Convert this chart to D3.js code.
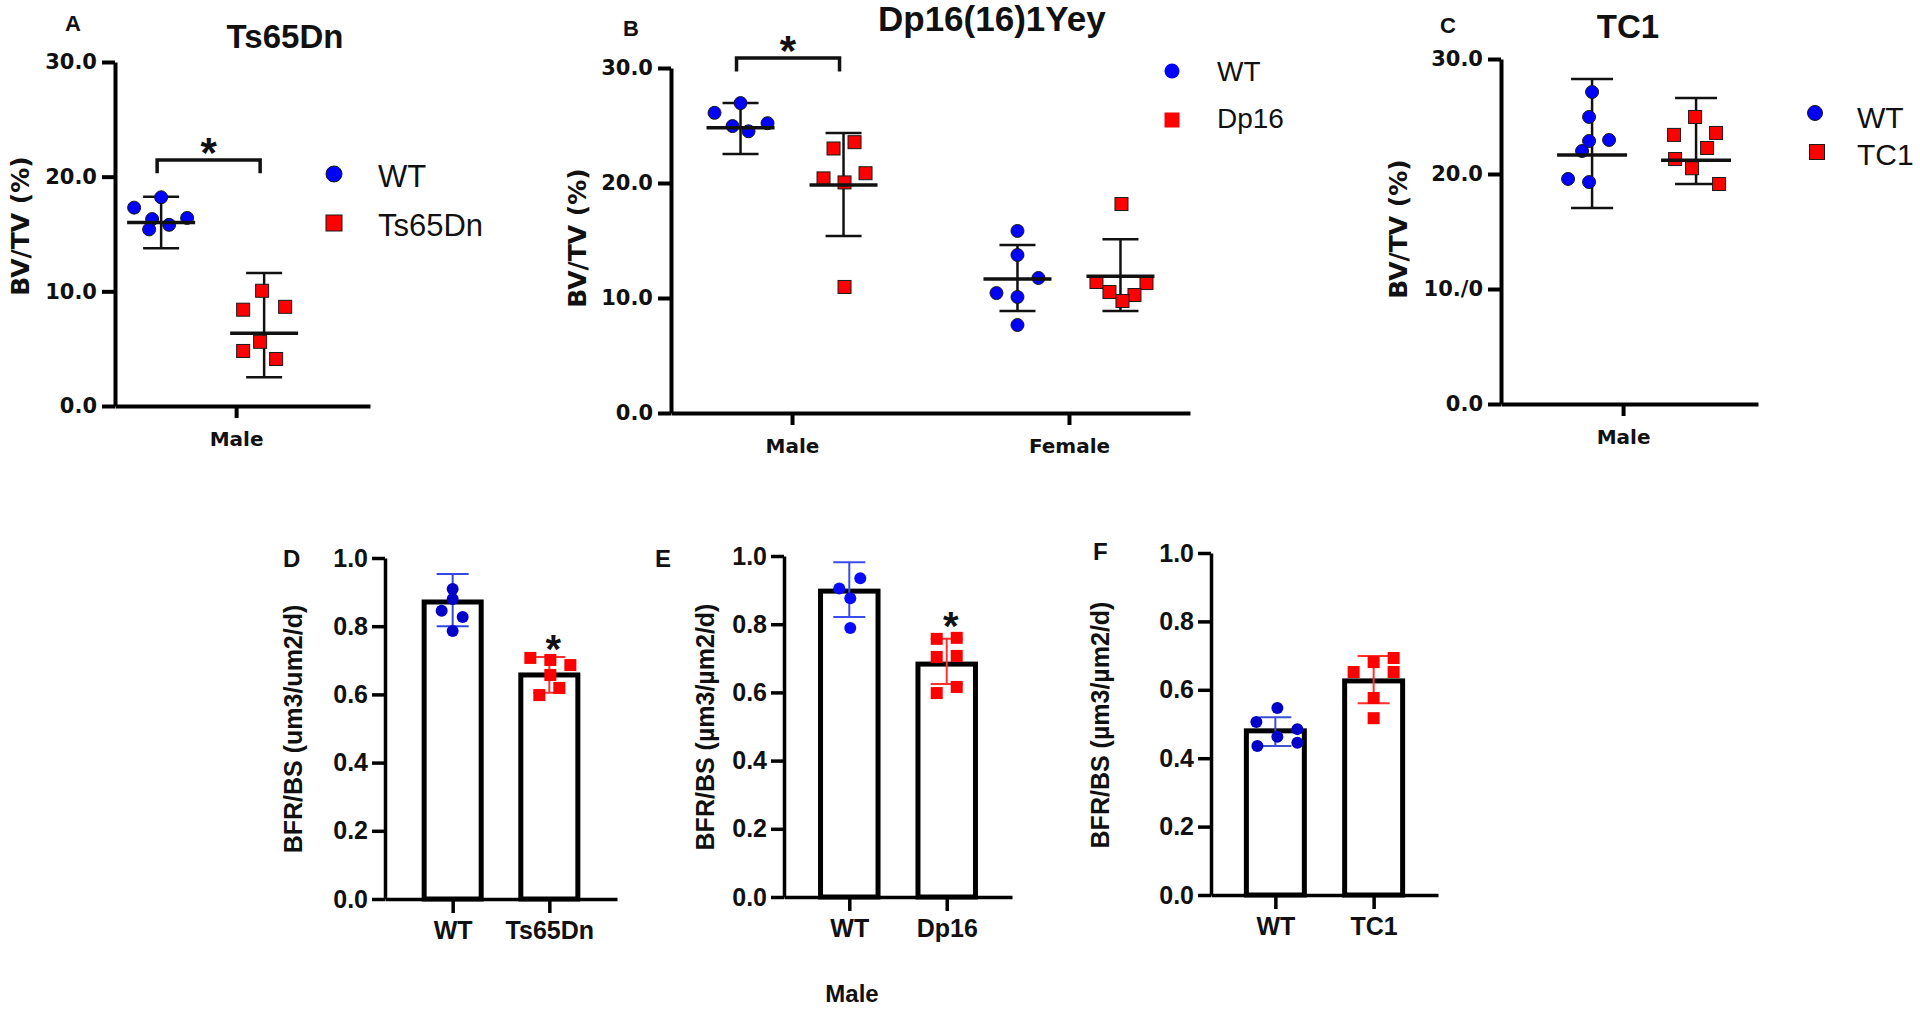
<!DOCTYPE html>
<html>
<head>
<meta charset="utf-8">
<script src="https://cdn.jsdelivr.net/npm/d3@7"></script>
<style>
  html, body { margin: 0; padding: 0; background: #fff; }
  svg { display: block; }
</style>
</head>
<body>
<svg id="fig" width="1920" height="1009"></svg>
<script>
// ---------- top row: BV/TV (%) ----------
const bvTicks = [0, 10, 20, 30];
const bvLabels = ["0.0", "10.0", "20.0", "30.0"];
const bvLabelsC = ["0.0", "10./0", "20.0", "30.0"];   // typo kept from the original

// A  Ts65Dn
const aCats = ["Male"];
const aGeno = ["WT", "Ts65Dn"];
const aWT = [17.3, 18.2, 16.3, 15.4, 15.8, 16.4];
const aWTJit = [-27, 0, -9, -12, 8, 26];
const aTs = [10.05, 8.4, 8.65, 5.6, 4.8, 4.1];
const aTsJit = [-2, -21, 21, -4, -21, 12];
const aMean = [16.0, 6.35];
const aLo = [13.75, 2.5];
const aHi = [18.25, 11.6];

// B  Dp16(16)1Yey
const bCats = ["Male", "Female"];
const bGeno = ["WT", "Dp16"];
const bWTMale = [26.1, 26.95, 24.95, 24.5, 25.2];
const bWTMaleJit = [-26, 0, -8, 8, 27];
const bDpMale = [23.0, 23.55, 20.4, 20.85, 20.05, 10.96];
const bDpMaleJit = [-10, 11, -20, 22, 1, 1];
const bWTFemale = [15.83, 13.74, 11.74, 10.43, 10.09, 7.65];
const bWTFemaleJit = [0, 0, 21, -21, 0, 0];
const bDpFemale = [18.17, 11.39, 11.3, 10.52, 10.26, 9.74];
const bDpFemaleJit = [1, -24, 26, -11, 14, 2];
// order: WT male, Dp16 male, WT female, Dp16 female
const bMean = [24.8, 19.83, 11.65, 11.9];
const bLo = [22.52, 15.39, 8.87, 8.87];
const bHi = [26.96, 24.35, 14.6, 15.1];

// C  TC1
const cCats = ["Male"];
const cGeno = ["WT", "TC1"];
const cWT = [27.13, 24.96, 22.87, 22.96, 22.0, 19.57, 19.3];
const cWTJit = [0, -3, -3, 17, -10, -24, -3];
const cTC = [24.96, 23.4, 23.57, 22.26, 21.3, 20.5, 19.13];
const cTCJit = [-1, -22, 20, 11, -21, -4, 23];
const cMean = [21.65, 21.2];
const cLo = [17.04, 19.13];
const cHi = [28.26, 26.6];

// ---------- bottom row: BFR/BS ----------
const bfrTicks = [0, 0.2, 0.4, 0.6, 0.8, 1.0];
const bfrLabels = ["0.0", "0.2", "0.4", "0.6", "0.8", "1.0"];

// D  Ts65Dn
const dGeno = ["WT", "Ts65Dn"];
const dWT = [0.909, 0.880, 0.845, 0.827, 0.786];
const dWTJit = [0, 0, -11, 10, 0];
const dTs = [0.707, 0.701, 0.686, 0.657, 0.619, 0.598];
const dTsJit = [-19, 1, 21, 1, 10, -10];
const dMean = [0.871, 0.657];
const dLo = [0.80, 0.605];
const dHi = [0.953, 0.710];

// E  Dp16
const eGeno = ["WT", "Dp16"];
const eWT = [0.935, 0.905, 0.876, 0.789];
const eWTJit = [11, -10, 1, 1];
const eDp = [0.757, 0.760, 0.704, 0.707, 0.598, 0.616];
const eDpJit = [-10, 10, -10, 10, -10, 10];
const eMean = [0.897, 0.683];
const eLo = [0.821, 0.625];
const eHi = [0.982, 0.757];

// F  TC1
const fGeno = ["WT", "TC1"];
const fWT = [0.547, 0.506, 0.485, 0.463, 0.436, 0.445];
const fWTJit = [2, -19, 22, 2, -18, 22];
const fTC = [0.652, 0.681, 0.693, 0.652, 0.576, 0.517];
const fTCJit = [-20, 0, 20, 20, 0, 0];
const fMean = [0.48, 0.626];
const fLo = [0.436, 0.561];
const fHi = [0.52, 0.699];

const BLUE = "#0000ff", RED = "#ff0000";
const BOLD = "'Liberation Sans', Arial, sans-serif";
const WIDE = "'DejaVu Sans', sans-serif";

const svg = d3.select("#fig");

function addText(x, y, str, opt) {
    const t = svg.append("text")
        .attr("x", x).attr("y", y)
        .attr("font-family", opt.family || BOLD)
        .attr("font-size", opt.size)
        .attr("font-weight", opt.weight || "bold")
        .attr("text-anchor", opt.anchor || "start")
        .attr("fill", "#111")
        .text(str);
    return t;
}

function yLabel(x, y, str, family, size) {
    svg.append("text")
        .attr("transform", "translate(" + x + "," + y + ") rotate(-90)")
        .attr("text-anchor", "middle")
        .attr("dominant-baseline", "central")
        .attr("font-family", family)
        .attr("font-size", size)
        .attr("font-weight", "bold")
        .attr("fill", "#111")
        .text(str);
}

function marker(g, shape, cx, cy, size, fill, stroke) {
    if (shape === "circle") {
        g.append("circle").attr("cx", cx).attr("cy", cy).attr("r", size / 2)
            .attr("fill", fill).attr("stroke", stroke || "none").attr("stroke-width", 1);
    } else {
        g.append("rect").attr("x", cx - size / 2).attr("y", cy - size / 2)
            .attr("width", size).attr("height", size)
            .attr("fill", fill).attr("stroke", stroke || "none").attr("stroke-width", 1);
    }
}

// asterisk glyph sits high in the em box, shift baseline so its centre lands on cy
function star(x, cy, size) {
    addText(x, cy + size * 0.57, "*", { size: size, anchor: "middle" });
}

// dot plot with mean +/- SD (top row)
function scatterPanel(p) {
    const y = d3.scaleLinear().domain([0, 30]).range([p.yBase, p.yTop]);
    const x = d3.scalePoint().domain(p.cats).range([p.x0, p.x1])
        .padding(p.padding).align(p.align);
    const g = svg.append("g");

    const ya = g.append("g").attr("transform", "translate(" + p.x0 + ",0)")
        .call(d3.axisLeft(y).tickValues(bvTicks)
            .tickFormat((d, i) => p.labels[i])
            .tickSize(13).tickSizeOuter(0).tickPadding(5));
    ya.attr("stroke-width", 4).attr("font-family", WIDE)
        .attr("font-size", 21).attr("font-weight", "bold");

    const xa = g.append("g").attr("transform", "translate(0," + p.yBase + ")")
        .call(d3.axisBottom(x).tickSize(12).tickSizeOuter(0).tickPadding(14));
    xa.attr("stroke-width", 4).attr("font-family", WIDE)
        .attr("font-size", 20).attr("font-weight", "bold");
    g.selectAll(".tick text").attr("fill", "#111");

    p.groups.forEach(d => {
        const cx = x(d.cat) + p.offsets[d.geno];
        const half = p.capW / 2, mh = p.meanW / 2;
        g.append("line").attr("x1", cx).attr("x2", cx)
            .attr("y1", y(d.lo)).attr("y2", y(d.hi))
            .attr("stroke", "#111").attr("stroke-width", 2.5);
        [d.lo, d.hi].forEach(v => {
            g.append("line").attr("x1", cx - half).attr("x2", cx + half)
                .attr("y1", y(v)).attr("y2", y(v))
                .attr("stroke", "#111").attr("stroke-width", 2.5);
        });
        d.vals.forEach((v, i) => {
            marker(g, d.geno === 0 ? "circle" : "square", cx + d.jit[i], y(v), 13,
                d.geno === 0 ? BLUE : RED, "#1a1a1a");
        });
        g.append("line").attr("x1", cx - mh).attr("x2", cx + mh)
            .attr("y1", y(d.mean)).attr("y2", y(d.mean))
            .attr("stroke", "#111").attr("stroke-width", 3.5);
    });

    if (p.bracket) {
        const b = p.bracket;
        const xa0 = x(b.cat) + p.offsets[0] - 4, xa1 = x(b.cat) + p.offsets[1] - 4;
        g.append("path")
            .attr("d", "M" + xa0 + "," + y(b.foot) + "V" + y(b.top) + "H" + xa1 + "V" + y(b.foot))
            .attr("fill", "none").attr("stroke", "#111").attr("stroke-width", 3.5);
        star((xa0 + xa1) / 2, y(b.star), 42);
    }
    return { x, y };
}

// bar chart with points and SD (bottom row)
function barPanel(p) {
    const y = d3.scaleLinear().domain([0, 1]).range([p.yBase, p.yTop]);
    const x = d3.scalePoint().domain(p.geno).range([p.x0, p.x1]).padding(p.padding);
    const bw = x.step() * 0.59;
    const g = svg.append("g");

    g.selectAll("rect.bar").data(p.groups).join("rect")
        .attr("class", "bar")
        .attr("x", d => x(d.geno) - bw / 2)
        .attr("y", d => y(d.mean))
        .attr("width", bw)
        .attr("height", d => y(0) - y(d.mean))
        .attr("fill", "#fff").attr("stroke", "#000").attr("stroke-width", 5);

    const ya = g.append("g").attr("transform", "translate(" + p.x0 + ",0)")
        .call(d3.axisLeft(y).tickValues(bfrTicks)
            .tickFormat((d, i) => bfrLabels[i])
            .tickSize(13).tickSizeOuter(0).tickPadding(4));
    ya.attr("stroke-width", 3.5).attr("font-family", BOLD)
        .attr("font-size", 25).attr("font-weight", "bold");

    const xa = g.append("g").attr("transform", "translate(0," + p.yBase + ")")
        .call(d3.axisBottom(x).tickSize(14).tickSizeOuter(0).tickPadding(8));
    xa.attr("stroke-width", 3.5).attr("font-family", BOLD)
        .attr("font-size", 25).attr("font-weight", "bold");
    g.selectAll(".tick text").attr("fill", "#111");

    p.groups.forEach((d, k) => {
        const cx = x(d.geno);
        const col = k === 0 ? p.blueErr : "#ff3030";
        const half = 16;
        g.append("line").attr("x1", cx).attr("x2", cx)
            .attr("y1", y(d.lo)).attr("y2", y(d.hi))
            .attr("stroke", col).attr("stroke-width", 2);
        [d.lo, d.hi].forEach(v => {
            g.append("line").attr("x1", cx - half).attr("x2", cx + half)
                .attr("y1", y(v)).attr("y2", y(v))
                .attr("stroke", col).attr("stroke-width", 2);
        });
        d.vals.forEach((v, i) => {
            marker(g, k === 0 ? "circle" : "square", cx + d.jit[i], y(v), 12,
                k === 0 ? p.blue : RED, null);
        });
    });

    if (p.star) star(x(p.star.geno) + 4, y(p.star.v), 40);
    return { x, y };
}

function groupsOf(cats, list) {
    return list.map(r => ({ cat: cats[r[0]], geno: r[1], vals: r[2], jit: r[3], mean: r[4], lo: r[5], hi: r[6] }));
}

// ---- A ----
scatterPanel({
    x0: 115, x1: 370, yBase: 406, yTop: 62, padding: 0.5, align: 0.475,
    cats: aCats, offsets: [-75, 28], labels: bvLabels, capW: 36, meanW: 68,
    groups: groupsOf(aCats, [
        [0, 0, aWT, aWTJit, aMean[0], aLo[0], aHi[0]],
        [0, 1, aTs, aTsJit, aMean[1], aLo[1], aHi[1]]
    ]),
    bracket: { cat: "Male", top: 21.45, foot: 20.3, star: 22.9 }
});
addText(65, 31, "A", { size: 22 });
addText(285, 48, "Ts65Dn", { size: 33, anchor: "middle" });
yLabel(20, 226, "BV/TV (%)", WIDE, 25);
{
    const g = svg.append("g");
    marker(g, "circle", 334, 174, 16, BLUE, "#1a1a1a");
    marker(g, "square", 334, 223, 16, RED, "#1a1a1a");
    addText(378, 187, aGeno[0], { size: 31, weight: "normal" });
    addText(378, 236, aGeno[1], { size: 31, weight: "normal" });
}

// ---- B ----
scatterPanel({
    x0: 671, x1: 1190, yBase: 413, yTop: 68, padding: 0.437, align: 0.5,
    cats: bCats, offsets: [-51.5, 51.5], labels: bvLabels, capW: 36, meanW: 68,
    groups: groupsOf(bCats, [
        [0, 0, bWTMale, bWTMaleJit, bMean[0], bLo[0], bHi[0]],
        [0, 1, bDpMale, bDpMaleJit, bMean[1], bLo[1], bHi[1]],
        [1, 0, bWTFemale, bWTFemaleJit, bMean[2], bLo[2], bHi[2]],
        [1, 1, bDpFemale, bDpFemaleJit, bMean[3], bLo[3], bHi[3]]
    ]),
    bracket: { cat: "Male", top: 30.87, foot: 29.7, star: 32.3 }
});
addText(623, 36, "B", { size: 22 });
addText(878, 31, "Dp16(16)1Yey", { size: 35 });
yLabel(577, 238, "BV/TV (%)", WIDE, 25);
{
    const g = svg.append("g");
    marker(g, "circle", 1172, 71, 15, BLUE, null);
    marker(g, "square", 1172, 120, 15, RED, null);
    addText(1217, 81, bGeno[0], { size: 28, weight: "normal" });
    addText(1217, 128, bGeno[1], { size: 28, weight: "normal" });
}

// ---- C ----
scatterPanel({
    x0: 1501, x1: 1758, yBase: 404, yTop: 59, padding: 0.5, align: 0.475,
    cats: cCats, offsets: [-31, 73], labels: bvLabelsC, capW: 42, meanW: 70,
    groups: groupsOf(cCats, [
        [0, 0, cWT, cWTJit, cMean[0], cLo[0], cHi[0]],
        [0, 1, cTC, cTCJit, cMean[1], cLo[1], cHi[1]]
    ])
});
addText(1440, 33, "C", { size: 22 });
addText(1628, 38, "TC1", { size: 33, anchor: "middle" });
yLabel(1398, 229, "BV/TV (%)", WIDE, 25);
{
    const g = svg.append("g");
    marker(g, "circle", 1815, 113, 15, BLUE, "#1a1a1a");
    marker(g, "square", 1817, 152, 15, RED, "#1a1a1a");
    addText(1857, 128, cGeno[0], { size: 30, weight: "normal" });
    addText(1857, 165, cGeno[1], { size: 30, weight: "normal" });
}

// ---- D ----
barPanel({
    x0: 385, x1: 617, yBase: 899, yTop: 558, padding: 0.7,
    geno: dGeno, blue: "#0000c8", blueErr: "#3646e0",
    groups: [
        { geno: dGeno[0], vals: dWT, jit: dWTJit, mean: dMean[0], lo: dLo[0], hi: dHi[0] },
        { geno: dGeno[1], vals: dTs, jit: dTsJit, mean: dMean[1], lo: dLo[1], hi: dHi[1] }
    ],
    star: { geno: dGeno[1], v: 0.76 }
});
addText(283, 567, "D", { size: 24 });
yLabel(293, 729, "BFR/BS (um3/um2/d)", BOLD, 25);

// ---- E ----
barPanel({
    x0: 784, x1: 1012, yBase: 897, yTop: 556, padding: 0.67,
    geno: eGeno, blue: "#0a0aff", blueErr: "#3a4cf0",
    groups: [
        { geno: eGeno[0], vals: eWT, jit: eWTJit, mean: eMean[0], lo: eLo[0], hi: eHi[0] },
        { geno: eGeno[1], vals: eDp, jit: eDpJit, mean: eMean[1], lo: eLo[1], hi: eHi[1] }
    ],
    star: { geno: eGeno[1], v: 0.821 }
});
addText(655, 567, "E", { size: 24 });
yLabel(705, 727, "BFR/BS (µm3/µm2/d)", BOLD, 25);

// ---- F ----
barPanel({
    x0: 1211, x1: 1438, yBase: 895, yTop: 553, padding: 0.655,
    geno: fGeno, blue: "#0000c8", blueErr: "#3a4fd6",
    groups: [
        { geno: fGeno[0], vals: fWT, jit: fWTJit, mean: fMean[0], lo: fLo[0], hi: fHi[0] },
        { geno: fGeno[1], vals: fTC, jit: fTCJit, mean: fMean[1], lo: fLo[1], hi: fHi[1] }
    ]
});
addText(1093, 560, "F", { size: 24 });
yLabel(1100, 725, "BFR/BS (µm3/µm2/d)", BOLD, 25);

addText(852, 1002, "Male", { size: 24, anchor: "middle" });
</script>
</body>
</html>
